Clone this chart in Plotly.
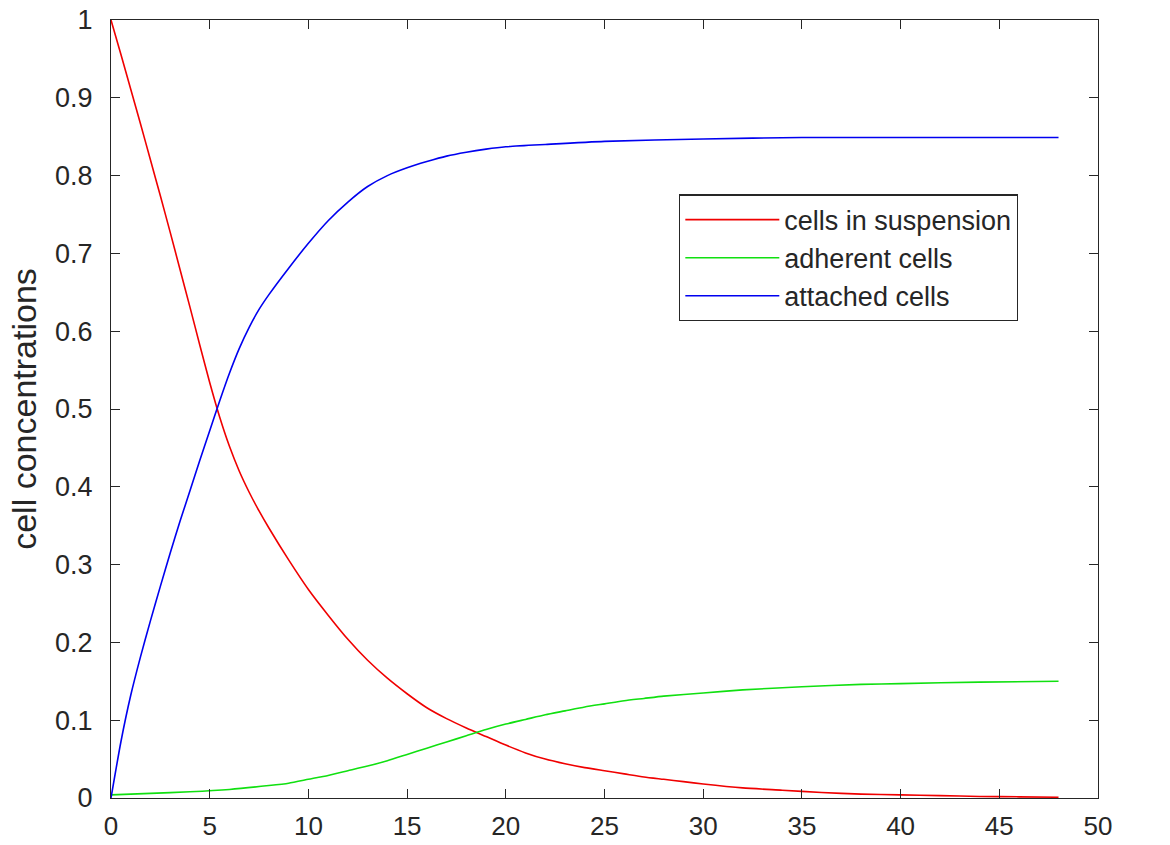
import plotly.graph_objects as go

# time points and values
t_red = [0, 0.5, 1, 1.5, 2, 2.5, 3, 3.5, 4, 4.5, 5, 5.5, 6, 6.5, 7, 7.5, 8, 9, 10, 11,
         12, 13, 14, 15, 16, 17, 18, 19, 20, 21, 22, 23, 24, 25, 26, 27, 28, 29, 30,
         32, 34, 36, 38, 40, 42, 44, 46, 48]
suspension = [1.000, 0.956, 0.911, 0.866, 0.820, 0.774, 0.727, 0.679, 0.631, 0.582,
              0.534, 0.490, 0.452, 0.420, 0.393, 0.369, 0.347, 0.306, 0.268, 0.235,
              0.204, 0.177, 0.154, 0.134, 0.116, 0.102, 0.090, 0.079, 0.068, 0.058,
              0.050, 0.044, 0.039, 0.035, 0.031, 0.027, 0.024, 0.021, 0.018,
              0.013, 0.010, 0.007, 0.005, 0.004, 0.003, 0.002, 0.0015, 0.001]

t_green = [0, 2, 4, 6, 8, 9, 10, 11, 12, 13, 14, 15, 16, 17, 18, 19, 20, 21, 22, 23,
           24, 25, 26, 27, 28, 30, 32, 35, 38, 40, 44, 48]
adherent = [0.004, 0.006, 0.008, 0.011, 0.016, 0.019, 0.024, 0.029, 0.035, 0.041,
            0.048, 0.056, 0.064, 0.072, 0.080, 0.088, 0.095, 0.101, 0.107, 0.112,
            0.117, 0.121, 0.125, 0.128, 0.131, 0.135, 0.139, 0.143, 0.146, 0.147,
            0.149, 0.150]

t_blue = [0, 0.5, 1, 1.5, 2, 2.5, 3, 3.5, 4, 4.5, 5, 5.5, 6, 6.5, 7, 7.5, 8, 9, 10,
          11, 12, 13, 14, 15, 16, 17, 18, 19, 20, 22, 25, 30, 35, 40, 48]
attached = [0.000, 0.072, 0.132, 0.182, 0.228, 0.272, 0.315, 0.356, 0.395, 0.434,
            0.472, 0.510, 0.546, 0.578, 0.605, 0.628, 0.647, 0.681, 0.713, 0.742,
            0.766, 0.786, 0.800, 0.810, 0.818, 0.825, 0.830, 0.834, 0.837, 0.840,
            0.844, 0.847, 0.849, 0.849, 0.849]

x_ticks = [0, 5, 10, 15, 20, 25, 30, 35, 40, 45, 50]
y_ticks = [0, 0.1, 0.2, 0.3, 0.4, 0.5, 0.6, 0.7, 0.8, 0.9, 1]
y_tick_text = ["0", "0.1", "0.2", "0.3", "0.4", "0.5", "0.6", "0.7", "0.8", "0.9", "1"]

FONT = "Liberation Sans, Arial, sans-serif"
AX = "#262626"

fig = go.Figure()
fig.add_trace(go.Scatter(x=t_red, y=suspension, mode="lines", name="cells in suspension",
                         line=dict(color="#f00000", width=1.6, shape="spline", smoothing=0.6),
                         legendgroup="a"))
fig.add_trace(go.Scatter(x=t_green, y=adherent, mode="lines", name="adherent cells",
                         line=dict(color="#10e010", width=1.6, shape="spline", smoothing=0.6),
                         legendgroup="b"))
fig.add_trace(go.Scatter(x=t_blue, y=attached, mode="lines", name="attached cells",
                         line=dict(color="#0000f0", width=1.6, shape="spline", smoothing=0.6),
                         legendgroup="c"))

axis_common = dict(showgrid=False, zeroline=False, showline=True, linecolor=AX, linewidth=1.3,
                   mirror="allticks", ticks="inside", ticklen=9, tickcolor=AX, tickwidth=1.3,
                   automargin=False)

fig.update_layout(
    width=1170, height=845,
    margin=dict(l=111, r=72, t=20, b=47),
    paper_bgcolor="white", plot_bgcolor="white",
    showlegend=True,
    legend=dict(x=0.5755, y=0.776, xanchor="left", yanchor="top",
                bordercolor=AX, borderwidth=1.3, bgcolor="white",
                font=dict(family=FONT, size=27, color=AX),
                traceorder="grouped", tracegroupgap=0, itemwidth=94),
    xaxis=dict(range=[0, 50], tickvals=x_ticks, ticklabelstandoff=5,
               tickfont=dict(family=FONT, size=26, color=AX), **axis_common),
    yaxis=dict(range=[0, 1], tickvals=y_ticks, ticktext=y_tick_text, ticklabelstandoff=12,
               tickfont=dict(family=FONT, size=27, color=AX),
               title=dict(text="cell concentrations", font=dict(family=FONT, size=34, color=AX),
                          standoff=8),
               **axis_common),
)

fig.write_html("out.html")
